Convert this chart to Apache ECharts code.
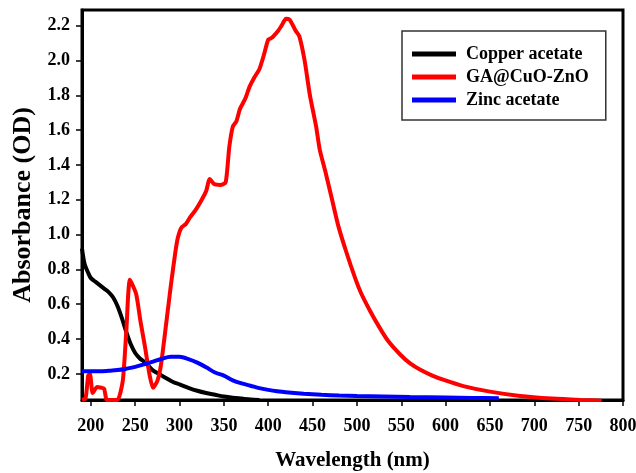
<!DOCTYPE html>
<html>
<head>
<meta charset="utf-8">
<script src="https://cdn.jsdelivr.net/npm/echarts@6/dist/echarts.min.js"></script>
<style>html,body{margin:0;padding:0;background:#fff;}#c{width:636px;height:473px;}</style>
</head>
<body>
<div id="c"></div>
<script>
// Copper acetate
const copperX = [190,193,197,200,205,210,215,220,225,230,235,240,245,250,255,260,265,270,275,280,285,290,295,300,310,320,330,340,350,360,370,380,390];
const copperY = [0.92,0.83,0.78,0.75,0.73,0.71,0.69,0.67,0.64,0.59,0.52,0.44,0.37,0.32,0.29,0.27,0.245,0.22,0.205,0.19,0.175,0.16,0.148,0.14,0.12,0.103,0.09,0.08,0.07,0.063,0.058,0.053,0.05];
// GA@CuO-ZnO
const gaX = [190,194,197,199,202,207,212,215,218,224,230,236,240,244,251,256,261,266,270,275,279,284,290,295,298,302,307,312,318,325,330,334,339,346,352,356,360,364,368,374,379,384,390,395,400,404,411,415,420,424,428,431,435,441,447,454,458,465,472,479,488,498,505,515,525,535,549,560,571,585,598,620,650,684,720,752,776];
const gaY = [0.05,0.06,0.19,0.2,0.09,0.125,0.12,0.115,0.05,0.05,0.05,0.16,0.45,0.74,0.66,0.5,0.356,0.2,0.12,0.16,0.25,0.45,0.7,0.89,0.98,1.04,1.06,1.1,1.14,1.2,1.25,1.32,1.29,1.285,1.3,1.5,1.62,1.65,1.72,1.78,1.85,1.9,1.95,2.03,2.12,2.13,2.17,2.2,2.24,2.235,2.2,2.17,2.14,2.0,1.8,1.62,1.49,1.35,1.2,1.05,0.9,0.75,0.66,0.56,0.47,0.39,0.31,0.26,0.225,0.19,0.165,0.13,0.098,0.073,0.058,0.05,0.046];
// Zinc acetate
const zincX = [190,200,210,220,230,240,250,260,270,280,290,300,310,320,330,340,350,360,370,380,390,400,410,420,440,460,480,500,530,560,600,630,660];
const zincY = [0.215,0.215,0.215,0.218,0.222,0.23,0.24,0.255,0.27,0.287,0.298,0.298,0.285,0.265,0.238,0.208,0.19,0.163,0.145,0.132,0.118,0.108,0.1,0.094,0.086,0.08,0.076,0.073,0.07,0.067,0.064,0.062,0.06];
const xTicks = [200,250,300,350,400,450,500,550,600,650,700,750,800];
const yTicks = [0.2,0.4,0.6,0.8,1.0,1.2,1.4,1.6,1.8,2.0,2.2];
const seriesNames = ['Copper acetate','GA@CuO-ZnO','Zinc acetate'];

const zip = (a,b) => a.map((v,i)=>[v,b[i]]);
const font = 'Liberation Serif, Times New Roman, serif';
const chart = echarts.init(document.getElementById('c'), null, {renderer:'canvas'});
chart.setOption({
  animation:false,
  backgroundColor:'#fff',
  grid:{left:82, right:13, top:10, bottom:73, show:true, borderColor:'#000', borderWidth:3, containLabel:false, outerBoundsMode:'none'},
  legend:{
    left:402, top:31, orient:'vertical', icon:'rect', itemWidth:44, itemHeight:5, itemGap:5,
    padding:[14,17,11,10], borderColor:'#333', borderWidth:1.5, backgroundColor:'#fff',
    textStyle:{fontFamily:font, fontWeight:'bold', fontSize:18, color:'#000', padding:[0,0,0,5]},
    data:seriesNames
  },
  xAxis:{
    type:'value', min:190, max:800,
    name:'Wavelength (nm)', nameLocation:'middle', nameGap:50,
    nameTextStyle:{fontFamily:font, fontWeight:'bold', fontSize:21, color:'#000'},
    axisLine:{show:true, onZero:false, lineStyle:{color:'#000', width:3}},
    axisTick:{show:true, inside:false, length:6, lineStyle:{color:'#000', width:1.5}, customValues:xTicks},
    axisLabel:{fontFamily:font, fontWeight:'bold', fontSize:18, color:'#000', margin:17, customValues:xTicks},
    splitLine:{show:false}
  },
  yAxis:{
    type:'value', min:0.05, max:2.29,
    name:'Absorbance (OD)', nameLocation:'middle', nameGap:37,
    nameTextStyle:{fontFamily:font, fontWeight:'bold', fontSize:26, color:'#000'},
    axisLine:{show:true, onZero:false, lineStyle:{color:'#000', width:3}},
    axisTick:{show:true, inside:false, length:6, lineStyle:{color:'#000', width:1.5}, customValues:yTicks},
    axisLabel:{fontFamily:font, fontWeight:'bold', fontSize:18, color:'#000', margin:12, customValues:yTicks, formatter:v=>v.toFixed(1)},
    splitLine:{show:false}
  },
  series:[
    {name:seriesNames[0], type:'line', data:zip(copperX,copperY), symbol:'none', smooth:0.3, lineStyle:{color:'#000', width:4}, itemStyle:{color:'#000'}},
    {name:seriesNames[1], type:'line', data:zip(gaX,gaY), symbol:'none', smooth:0.2, lineStyle:{color:'#ff0000', width:4}, itemStyle:{color:'#ff0000'}},
    {name:seriesNames[2], type:'line', data:zip(zincX,zincY), symbol:'none', smooth:0.3, lineStyle:{color:'#0000ff', width:4}, itemStyle:{color:'#0000ff'}}
  ]
});
</script>
</body>
</html>
